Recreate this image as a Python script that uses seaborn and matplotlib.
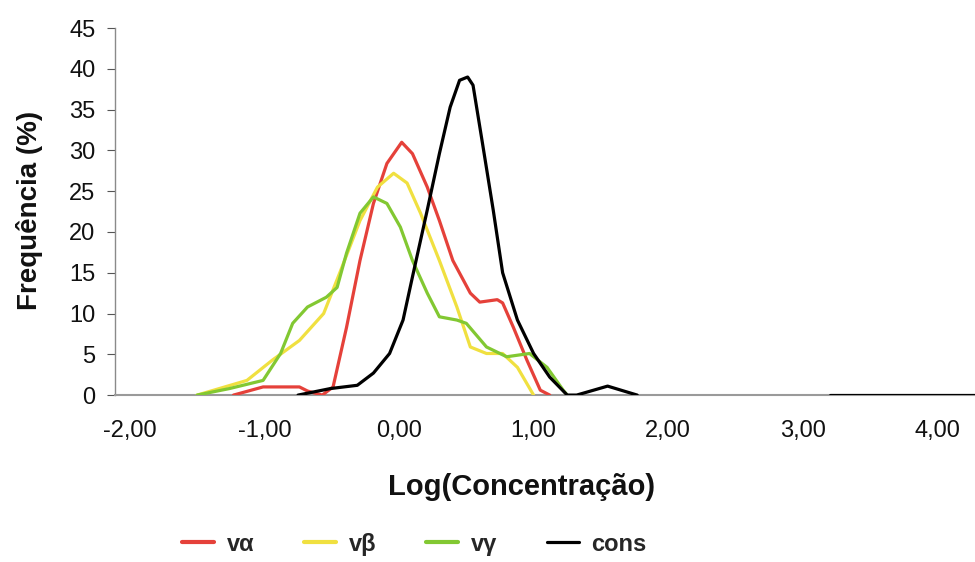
import numpy as np
import pandas as pd
import matplotlib
matplotlib.use("Agg")
import matplotlib.pyplot as plt
import seaborn as sns
from matplotlib.lines import Line2D

sns.set_theme(style="white")
plt.rcParams['font.family'] = ['Liberation Sans', 'DejaVu Sans']

# ---- data ----
va_x = [-1.23, -1.01, -0.74, -0.68, -0.57, -0.49, -0.39, -0.29, -0.19, -0.09, 0.02, 0.10, 0.21, 0.30, 0.40, 0.53, 0.60, 0.73, 0.77, 0.85, 0.95, 1.05, 1.12]
va_y = [0.0, 1.0, 1.0, 0.5, 0.0, 1.0, 8.3, 16.5, 23.5, 28.4, 31.0, 29.6, 25.5, 21.4, 16.5, 12.5, 11.4, 11.7, 11.3, 8.3, 4.3, 0.6, 0.0]

vb_x = [-1.50, -1.13, -0.94, -0.74, -0.56, -0.44, -0.29, -0.16, -0.04, 0.06, 0.16, 0.30, 0.43, 0.53, 0.65, 0.77, 0.88, 1.00]
vb_y = [0.0, 1.8, 4.3, 6.7, 10.0, 15.0, 21.4, 25.5, 27.2, 26.0, 22.3, 16.5, 10.8, 5.9, 5.1, 5.1, 3.4, 0.0]

vg_x = [-1.50, -1.26, -1.01, -0.88, -0.79, -0.68, -0.54, -0.46, -0.39, -0.29, -0.19, -0.09, 0.01, 0.10, 0.21, 0.30, 0.43, 0.50, 0.65, 0.80, 0.97, 1.10, 1.22, 1.25]
vg_y = [0.0, 0.8, 1.8, 5.1, 8.8, 10.8, 12.0, 13.2, 17.4, 22.3, 24.3, 23.5, 20.6, 16.5, 12.5, 9.6, 9.2, 8.8, 5.9, 4.7, 5.1, 3.4, 0.6, 0.0]

cons_x = [-0.75, -0.51, -0.31, -0.19, -0.07, 0.03, 0.10, 0.21, 0.30, 0.38, 0.45, 0.51, 0.55, 0.62, 0.70, 0.77, 0.88, 1.00, 1.12, 1.25, 1.32, 1.55, 1.77]
cons_y = [0.0, 0.8, 1.2, 2.7, 5.1, 9.2, 14.5, 22.7, 29.6, 35.3, 38.6, 39.0, 38.0, 30.9, 22.7, 15.0, 9.2, 5.1, 2.2, 0.0, 0.0, 1.1, 0.0]
cons_tail_x = [3.20, 4.30]
cons_tail_y = [0.0, 0.0]

x_ticks = [-2, -1, 0, 1, 2, 3, 4]
x_tick_labels = ["-2,00", "-1,00", "0,00", "1,00", "2,00", "3,00", "4,00"]
y_ticks = [0, 5, 10, 15, 20, 25, 30, 35, 40, 45]
series_names = ["vα", "vβ", "vγ", "cons"]

colors = {"vα": "#e5413a", "vβ": "#f0e040", "vγ": "#82c832", "cons": "#000000"}

fig = plt.figure(figsize=(9.75, 5.62), dpi=100)
ax = fig.add_axes([0.118, 0.297, 0.882, 0.653])

for name, xs, ys in [("vα", va_x, va_y), ("vβ", vb_x, vb_y), ("vγ", vg_x, vg_y),
                     ("cons", cons_x, cons_y), ("cons", cons_tail_x, cons_tail_y)]:
    df = pd.DataFrame({"x": xs, "y": ys})
    sns.lineplot(data=df, x="x", y="y", ax=ax, color=colors[name], lw=2.3,
                 sort=False, estimator=None, zorder=3)

ax.set_xlim(-2.11, 4.28)
ax.set_ylim(0, 45)
ax.set_xticks(x_ticks)
ax.set_xticklabels(x_tick_labels)
ax.set_yticks(y_ticks)
ax.set_yticklabels([str(v) for v in y_ticks])

for s in ["top", "right"]:
    ax.spines[s].set_visible(False)
ax.spines["left"].set_color("#8a8a8a")
ax.spines["bottom"].set_color("#9a9a9a")
ax.spines["left"].set_linewidth(1.0)
ax.spines["bottom"].set_linewidth(1.5)

ax.tick_params(axis="y", which="major", left=True, length=6, width=0.8,
               color="#555555", pad=8, labelsize=17, labelcolor="#111111")
ax.tick_params(axis="x", which="major", bottom=False, length=0, pad=18,
               labelsize=17, labelcolor="#111111")

ax.set_xlabel("Log(Concentração)", fontsize=21, fontweight="bold", color="#111111")
ax.xaxis.set_label_coords(0.473, -0.212)
ax.set_ylabel("Frequência (%)", fontsize=20, fontweight="bold", color="#111111")
ax.yaxis.set_label_coords(-0.084, 0.504)

handles = [Line2D([0], [0], color=colors[n], lw=3 if n != "cons" else 2.3) for n in series_names]
fig.legend(handles, series_names, loc="center", bbox_to_anchor=(0.425, 0.032), ncol=4,
           frameon=False, handlelength=1.35, handletextpad=0.55, columnspacing=2.1,
           prop={"size": 17, "weight": "bold"})

fig.savefig("out.png", dpi=100)
